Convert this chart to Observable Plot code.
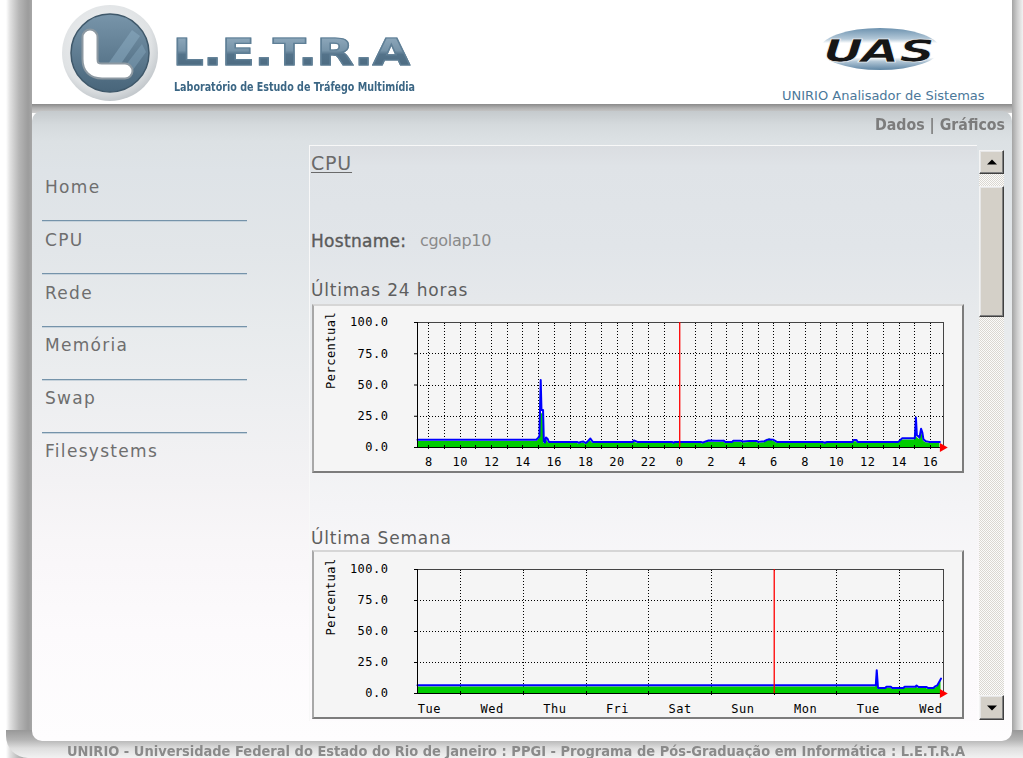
<!DOCTYPE html>
<html lang="pt-BR">
<head>
<meta charset="utf-8">
<title>UAS - CPU</title>
<script src="https://cdn.jsdelivr.net/npm/d3@7"></script>
<script src="https://cdn.jsdelivr.net/npm/@observablehq/plot@0.6"></script>
<style>
html,body{margin:0;padding:0;background:#fff;}
body{position:relative;width:1023px;height:758px;overflow:hidden;font-family:"DejaVu Sans",Verdana,sans-serif;}
.a{position:absolute;white-space:nowrap;line-height:1;}
#shadowL{left:6px;top:0;width:26px;height:758px;background:linear-gradient(to right,#fff 0%,#e2e2e2 15%,#b6b6b6 50%,#9c9c9c 85%,#a6a6a6 100%);}
#shadowR{left:1012px;top:0;width:11px;height:758px;background:linear-gradient(to right,#a4a4a4,#cfcfcf 50%,#f2f2f2);}
#shadowB{left:6px;top:730px;width:1017px;height:28px;background:linear-gradient(to bottom,#989898 0%,#b4b4b4 35%,#dedede 65%,#f2f2f2 100%);border-bottom-left-radius:22px;}
#header{left:32px;top:0;width:980px;height:105px;background:#fff;}
#headShadow{left:32px;top:104px;width:980px;height:9px;background:linear-gradient(to bottom,#8a8a8a,#b0b0b0 45%,#d0d0d0);}
#panel{left:32px;top:111px;width:980px;height:630px;border-radius:10px;background:linear-gradient(to bottom,#c5cacd 0px,#d5dadd 14px,#dce1e4 30px,#dee3e7 60px,#e2e6e9 140px,#e8ebed 220px,#eeeff1 300px,#f3f2f4 370px,#f8f6f8 430px,#fcfafc 520px,#fefdfe 630px);}
#content{left:309px;top:145px;width:667px;height:575px;border-top:1px solid #f8f8f8;border-left:1px solid #f8f8f8;background:linear-gradient(to bottom,#dadde1 0px,#dfe3e7 20px,#e1e5e9 100px,#e5e8eb 150px,#ebedef 210px,#f0f1f3 300px,#f4f4f6 360px,#f8f7f9 420px,#fbf9fb 480px,#fdfbfd 575px);}
.menu{left:45px;font-size:17px;letter-spacing:1.3px;color:#6e6e6e;}
.sep{left:42px;width:205px;height:2px;background:linear-gradient(#7593aa 50%,#c6d2db 50%);}
.frame{box-sizing:border-box;background:#f5f5f5;border:2px solid;border-color:#d6d6d6 #7c7c7c #7c7c7c #a8a8a8;}
.btn{box-sizing:border-box;background:#d4d0c8;border:1px solid;border-color:#f4f4f4 #404040 #404040 #f4f4f4;box-shadow:inset -1px -1px #808080, inset 1px 1px #e6e6e6;}
.tri{position:absolute;left:50%;top:50%;width:0;height:0;border-left:5px solid transparent;border-right:5px solid transparent;transform:translate(-50%,-50%);}
.up{border-bottom:5px solid #000;}
.down{border-top:5px solid #000;}
#track{left:979px;top:174px;width:25px;height:521px;background:repeating-conic-gradient(#dad7d1 0% 25%,#fbfbfa 0% 50%) 0 0/2px 2px;}
.title{left:311px;font-size:17px;letter-spacing:0.8px;color:#5e5e5e;}
</style>
</head>
<body>
<div id="shadowL" class="a"></div>
<div id="shadowR" class="a"></div>
<div id="shadowB" class="a"></div>
<div id="header" class="a"></div>
<div id="headShadow" class="a"></div>
<div id="panel" class="a"></div>

<svg class="a" style="left:0;top:0" width="1023" height="105">
  <defs>
    <radialGradient id="ring" cx="0.45" cy="0.4" r="0.6">
      <stop offset="0" stop-color="#f4f5f6"/>
      <stop offset="0.8" stop-color="#dfe2e4"/>
      <stop offset="1" stop-color="#c4c9cd"/>
    </radialGradient>
    <linearGradient id="inner" x1="0" y1="0" x2="0" y2="1">
      <stop offset="0" stop-color="#7895aa"/>
      <stop offset="1" stop-color="#48657a"/>
    </linearGradient>
    <linearGradient id="swoosh" x1="0" y1="0" x2="0" y2="1">
      <stop offset="0" stop-color="#6d92af"/>
      <stop offset="0.26" stop-color="#b3c8d8"/>
      <stop offset="0.36" stop-color="#ffffff"/>
      <stop offset="0.7" stop-color="#ffffff"/>
      <stop offset="0.8" stop-color="#b0c5d5"/>
      <stop offset="1" stop-color="#5e85a4"/>
    </linearGradient>
  </defs>
  <circle cx="110" cy="53" r="48" fill="url(#ring)"/>
  <circle cx="110" cy="53" r="39" fill="url(#inner)" stroke="#3f586a" stroke-width="1.5"/>
  <polygon points="108,64 132,30 140,36 118,68" fill="#93b4ca" opacity="0.45"/>
  <polygon points="122,70 142,44 146,52 130,74" fill="#93b4ca" opacity="0.35"/>
  <path d="M 90 37 L 90 59 Q 90 71 102 71 L 125 71" fill="none" stroke="#8d99a2" stroke-width="17" stroke-linecap="round" stroke-linejoin="round"/>
  <path d="M 90 37 L 90 59 Q 90 71 102 71 L 125 71" fill="none" stroke="#ffffff" stroke-width="13" stroke-linecap="round" stroke-linejoin="round"/>
  <ellipse cx="880" cy="49" rx="60" ry="21" fill="url(#swoosh)"/>
  <text x="823" y="62" textLength="112" lengthAdjust="spacingAndGlyphs" font-family="DejaVu Sans" font-weight="bold" font-style="italic" font-size="32" fill="#161616" stroke="#ffffff" stroke-width="0.6">UAS</text>
</svg>

<div class="a" data-fit="237" style="left:173px;top:34px;font-size:37px;font-weight:bold;letter-spacing:0;color:transparent;-webkit-text-stroke:1.2px #5f7f96;background:linear-gradient(to bottom,#93adc0 0%,#7693a8 45%,#54738a 55%,#4a687e 100%);-webkit-background-clip:text;background-clip:text;">L.E.T.R.A</div>
<div class="a" data-fit="241" style="left:174px;top:80px;font-size:13px;font-weight:bold;color:#3b6684;">Laboratório de Estudo de Tráfego Multimídia</div>
<div class="a" style="left:782px;top:89px;font-size:13px;color:#4b789a;">UNIRIO Analisador de Sistemas</div>

<div class="a" data-fit="130" style="left:875px;top:118px;font-size:15px;font-weight:bold;color:#7c7c7c;">Dados | Gráficos</div>

<div class="a menu" style="top:179px">Home</div>
<div class="a sep" style="top:220px"></div>
<div class="a menu" style="top:232px">CPU</div>
<div class="a sep" style="top:273px"></div>
<div class="a menu" style="top:285px">Rede</div>
<div class="a sep" style="top:326px"></div>
<div class="a menu" style="top:337px">Memória</div>
<div class="a sep" style="top:379px"></div>
<div class="a menu" style="top:390px">Swap</div>
<div class="a sep" style="top:432px"></div>
<div class="a menu" style="top:443px">Filesystems</div>

<div id="content" class="a"></div>
<div class="a" style="left:311px;top:154px;font-size:19px;letter-spacing:0.8px;color:#6a6a6a;text-decoration:underline;text-underline-offset:2px;">CPU</div>
<div class="a" style="left:311px;top:233px;font-size:17px;letter-spacing:0.3px;color:#5a5a5a;-webkit-text-stroke:0.35px #5a5a5a;">Hostname:</div>
<div class="a" style="left:420px;top:233px;font-size:16px;letter-spacing:-0.3px;color:#8a8a8a;">cgolap10</div>
<div class="a title" style="top:282px">Últimas 24 horas</div>
<div class="a title" style="top:530px">Última Semana</div>

<div class="a frame" style="left:312px;top:304px;width:652px;height:169px"></div>
<div class="a frame" style="left:312px;top:550px;width:652px;height:169px"></div>
<div id="chartDay" class="a" style="left:312px;top:304px;width:652px;height:169px"></div>
<div id="chartWeek" class="a" style="left:312px;top:550px;width:652px;height:169px"></div>

<div class="a btn" style="left:979px;top:150px;width:25px;height:24px"><div class="tri up"></div></div>
<div id="track" class="a"></div>
<div class="a btn" style="left:979px;top:186px;width:25px;height:131px"></div>
<div class="a btn" style="left:979px;top:695px;width:25px;height:25px"><div class="tri down"></div></div>

<div class="a" data-fit="898" style="left:67px;top:745px;font-size:13.5px;font-weight:bold;color:#8a8a8a;">UNIRIO - Universidade Federal do Estado do Rio de Janeiro : PPGI - Programa de Pós-Graduação em Informática : L.E.T.R.A</div>

<script>
// ---- Últimas 24 horas (x = hours since midnight of the first day) ----
const dayHours = [7.27, 14.85, 14.95, 15.05, 15.13, 15.18, 15.28, 15.33, 15.4, 15.47, 15.57, 15.65,
  17.45, 17.55, 17.7, 17.85, 18.0, 18.1, 18.3, 18.45, 21.0, 21.08, 21.3, 23.5, 23.58, 23.7,
  25.35, 25.45, 25.7, 25.85, 26.3, 26.8, 26.9, 27.35, 27.42, 27.85, 28.05, 28.45, 28.9, 29.0,
  29.4, 29.6, 29.72, 29.95, 30.2, 33.1, 33.25, 33.4, 35.02, 35.1, 35.28, 35.35, 37.95, 38.2,
  39.0, 39.07, 39.13, 39.3, 39.4, 39.48, 39.55, 39.7, 39.9, 40.6];
const dayTotal = [6.2, 6.2, 7.5, 9, 54, 30, 30, 5, 4, 8, 7, 4.5,
  4.5, 3.8, 4.5, 4.8, 3.6, 4.5, 7.2, 4.5, 4.5, 5.6, 4.5, 4.5, 3.8, 4.5,
  4.5, 3.9, 5.0, 5.6, 5.4, 5.5, 4.5, 4.5, 5.5, 5.5, 4.8, 5.3, 5.3, 4.5,
  5.0, 6.3, 6.5, 6.3, 4.5, 4.5, 3.8, 4.5, 4.5, 6.0, 6.0, 4.5, 4.5, 7.5,
  7.5, 24, 10, 8, 15, 12, 6.5, 5, 4.5, 4.5];
const dayUser = [4.8, 4.8, 5.5, 7, 52, 27, 27, 3.5, 3, 6, 5, 3.3,
  3.3, 2.8, 3.3, 3.6, 2.6, 3.4, 5.5, 3.3, 3.3, 4.3, 3.3, 3.3, 2.8, 3.3,
  3.3, 2.9, 3.8, 4.3, 4.1, 4.2, 3.4, 3.4, 4.3, 4.3, 3.6, 4.0, 4.0, 3.4,
  3.8, 5.0, 7.3, 5.2, 3.4, 3.4, 2.8, 3.4, 3.4, 4.6, 4.6, 3.4, 3.4, 6.0,
  6.0, 22, 8, 6.5, 13, 10, 5, 3.8, 3.4, 3.4];
const dayDomain = [7.27, 40.83];
const dayTickHours = [8, 10, 12, 14, 16, 18, 20, 22, 24, 26, 28, 30, 32, 34, 36, 38, 40];
const dayGridHours = d3.range(8, 41);
const dayMidnight = [24];

// ---- Última Semana (x = days since Wednesday 00:00) ----
const weekDays = [-0.69, 6.62, 6.635, 6.655, 6.77, 6.79, 6.86, 6.88, 7.06, 7.08, 7.25, 7.27, 7.3, 7.43, 7.45, 7.54, 7.56, 7.6, 7.66];
const weekTotal = [6.7, 6.7, 18.8, 4.5, 4.5, 5.5, 5.5, 4.5, 4.5, 5.5, 5.5, 6.5, 5.2, 5.2, 4.5, 4.5, 5.5, 6.5, 12];
const weekUser = [5.2, 5.2, 17, 3.3, 3.3, 4.2, 4.2, 3.3, 3.3, 4.2, 4.2, 5, 4, 4, 3.3, 3.3, 4.2, 5, 10.5];
const weekDomain = [-0.69, 7.7];
const weekTickPos = [-0.5, 0.5, 1.5, 2.5, 3.5, 4.5, 5.5, 6.5, 7.5];
const weekTickLabels = ["Tue", "Wed", "Thu", "Fri", "Sat", "Sun", "Mon", "Tue", "Wed"];
const weekGridDays = [0, 1, 2, 3, 4, 5, 6, 7];
const weekMonday = [5];

const yTicks = [0, 25, 50, 75, 100];
const yGrid = [25, 50, 75];
const yLabel = "Percentual";

function rrdChart(o) {
  const data = o.xs.map((x, i) => ({x, total: o.total[i], user: o.user[i]}));
  const gridOnly = o.grid.filter(g => !o.marker.includes(g));
  const dotted = {stroke: "#000", strokeDasharray: "1,2", shapeRendering: "crispEdges"};
  const solid = {stroke: "#000", shapeRendering: "crispEdges"};
  return Plot.plot({
    width: 652, height: 169,
    marginLeft: 105, marginRight: 21, marginTop: o.marginTop, marginBottom: 26,
    style: {background: "transparent", color: "#000", fontFamily: "'DejaVu Sans Mono', monospace", fontSize: "12px", letterSpacing: "0.5px", overflow: "visible"},
    x: {domain: o.domain, ticks: o.ticks, tickFormat: o.tickFormat, tickSize: 0, tickPadding: o.tickPadding, label: null},
    y: {domain: [0, 100], ticks: yTicks, tickFormat: d => d.toFixed(1), tickSize: 3, tickPadding: 26, label: null},
    marks: [
      Plot.ruleX(gridOnly, dotted),
      Plot.ruleY(yGrid, dotted),
      Plot.areaY(data, {x: "x", y: "user", fill: "#00cc00"}),
      Plot.lineY(data, {x: "x", y: "total", stroke: "#0000ff", strokeWidth: 2}),
      Plot.ruleX(o.grid, {y1: -1.8, y2: 1.8, ...solid}),
      Plot.ruleX(o.grid, {y1: 98.4, y2: 100, ...solid}),
      Plot.frame({stroke: "#444", shapeRendering: "crispEdges"}),
      Plot.ruleY([0], solid),
      Plot.ruleX([o.domain[0]], solid),
      Plot.ruleX(o.marker, {y1: 0, y2: 100, stroke: "#ff0000", strokeWidth: 1.3}),
      Plot.dot([{x: o.domain[1], y: 0}], {x: "x", y: "y", symbol: "triangle", rotate: 90, r: 3.4, fill: "#ff0000", stroke: "none", dx: -1}),
      Plot.text([yLabel], {frameAnchor: "left", rotate: -90, dx: -86, dy: 4, fontSize: 12, fill: "#000"})
    ]
  });
}

document.getElementById("chartDay").append(rrdChart({
  xs: dayHours, total: dayTotal, user: dayUser, domain: dayDomain,
  ticks: dayTickHours, tickFormat: h => String(h % 24), grid: dayGridHours,
  marker: dayMidnight, marginTop: 18, tickPadding: 10
}));

document.getElementById("chartWeek").append(rrdChart({
  xs: weekDays, total: weekTotal, user: weekUser, domain: weekDomain,
  ticks: weekTickPos, tickFormat: d => weekTickLabels[weekTickPos.indexOf(d)], grid: weekGridDays,
  marker: weekMonday, marginTop: 19, tickPadding: 11
}));

document.querySelectorAll("[data-fit]").forEach(el => {
  const target = +el.dataset.fit;
  const w = el.getBoundingClientRect().width;
  el.style.transformOrigin = "0 50%";
  el.style.transform = `scaleX(${target / w})`;
});
</script>
</body>
</html>
